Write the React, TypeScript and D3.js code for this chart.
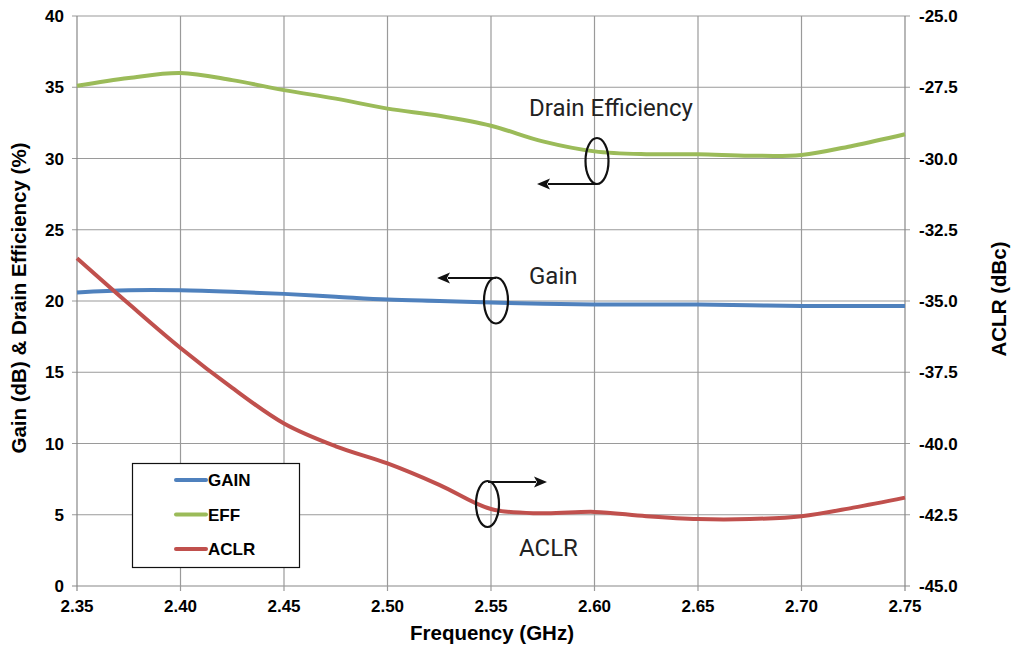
import React from "react";
import * as d3 from "d3";

const freqs = [2.35, 2.375, 2.4, 2.425, 2.45, 2.475, 2.5, 2.525, 2.55, 2.575, 2.6, 2.625, 2.65, 2.675, 2.7, 2.725, 2.75];
const gain = [20.6, 20.75, 20.75, 20.65, 20.5, 20.3, 20.1, 20.0, 19.9, 19.8, 19.75, 19.75, 19.75, 19.7, 19.65, 19.65, 19.65];
const eff = [35.1, 35.65, 36.0, 35.5, 34.8, 34.2, 33.5, 33.0, 32.3, 31.2, 30.5, 30.3, 30.3, 30.2, 30.25, 30.9, 31.7];
const aclr = [-33.5, -35.1, -36.65, -38.05, -39.3, -40.1, -40.7, -41.45, -42.3, -42.45, -42.4, -42.55, -42.65, -42.65, -42.55, -42.25, -41.9];

const xTicks = [2.35, 2.4, 2.45, 2.5, 2.55, 2.6, 2.65, 2.7, 2.75];
const yLeftTicks = [0, 5, 10, 15, 20, 25, 30, 35, 40];
const yRightTicks = [-45, -42.5, -40, -37.5, -35, -32.5, -30, -27.5, -25];

const legendItems = [
  { name: "GAIN", color: "#4F81BD" },
  { name: "EFF", color: "#9BBB59" },
  { name: "ACLR", color: "#C0504D" },
];

const W = 1011, H = 645;
const L = 77, R = 905, T = 16, B = 586;

export default function App() {
  const x = d3.scaleLinear().domain([2.35, 2.75]).range([L, R]);
  const yL = d3.scaleLinear().domain([0, 40]).range([B, T]);
  const yR = d3.scaleLinear().domain([-45, -25]).range([B, T]);
  const curve = d3.curveCatmullRom.alpha(0.5);
  const lineL = d3.line<number>().x((_, i) => x(freqs[i])).y((d) => yL(d)).curve(curve);
  const lineR = d3.line<number>().x((_, i) => x(freqs[i])).y((d) => yR(d)).curve(curve);
  const grid = "#9a9a9a";
  const axisFont = "'Liberation Sans', Arial, sans-serif";
  const annFont = "Roboto, sans-serif";

  const arrow = (x1: number, y1: number, x2: number) => {
    const dir = x2 < x1 ? -1 : 1;
    const hl = 13, hw = 5.5;
    return (
      <g>
        <line x1={x1} y1={y1} x2={x2 - dir * hl + dir * 2} y2={y1} stroke="#111" strokeWidth={2.2} />
        <path d={`M${x2},${y1} L${x2 - dir * hl},${y1 - hw} L${x2 - dir * (hl - 3)},${y1} L${x2 - dir * hl},${y1 + hw} Z`} fill="#111" />
      </g>
    );
  };

  return (
    <svg width={W} height={H} style={{ position: "absolute", left: 0, top: 0, background: "#fff" }}>
      {yLeftTicks.map((t) => (
        <line key={"h" + t} x1={L - 5} x2={R + 5} y1={yL(t)} y2={yL(t)} stroke={t === 0 ? "#888" : grid} strokeWidth={1.2} />
      ))}
      {xTicks.map((t) => (
        <line key={"v" + t} x1={x(t)} x2={x(t)} y1={T} y2={B + 5} stroke={t === 2.35 || t === 2.75 ? "#888" : grid} strokeWidth={1.2} />
      ))}
      {yLeftTicks.map((t) => (
        <text key={"yl" + t} x={L - 13} y={yL(t)} dy="0.36em" textAnchor="end" fontFamily={axisFont} fontWeight="bold" fontSize={17}>{t}</text>
      ))}
      {yRightTicks.map((t) => (
        <text key={"yr" + t} x={R + 14} y={yR(t)} dy="0.36em" textAnchor="start" fontFamily={axisFont} fontWeight="bold" fontSize={17}>{t.toFixed(1)}</text>
      ))}
      {xTicks.map((t) => (
        <text key={"xt" + t} x={x(t)} y={612} textAnchor="middle" fontFamily={axisFont} fontWeight="bold" fontSize={17}>{t.toFixed(2)}</text>
      ))}
      <text x={492} y={640} textAnchor="middle" fontFamily={axisFont} fontWeight="bold" fontSize={20.5}>Frequency (GHz)</text>
      <text transform={`translate(26,298) rotate(-90)`} textAnchor="middle" fontFamily={axisFont} fontWeight="bold" fontSize={20.5}>Gain (dB) &amp; Drain Efficiency (%)</text>
      <text transform={`translate(1006,299) rotate(-90)`} textAnchor="middle" fontFamily={axisFont} fontWeight="bold" fontSize={20.5}>ACLR (dBc)</text>

      <path d={lineL(eff) || ""} fill="none" stroke="#9BBB59" strokeWidth={4} />
      <path d={lineL(gain) || ""} fill="none" stroke="#4F81BD" strokeWidth={4} />
      <path d={lineR(aclr) || ""} fill="none" stroke="#C0504D" strokeWidth={4} />

      <ellipse cx={597} cy={161} rx={11.5} ry={23} fill="none" stroke="#111" strokeWidth={2.2} />
      {arrow(597, 184, 537)}
      <text x={529} y={116} fontFamily={annFont} fontSize={24} fill="#222">Drain Efficiency</text>

      <ellipse cx={496} cy={300.5} rx={12} ry={23} fill="none" stroke="#111" strokeWidth={2.2} />
      {arrow(496, 278, 437)}
      <text x={529} y={284} fontFamily={annFont} fontSize={24} fill="#222">Gain</text>

      <ellipse cx={487.5} cy={504} rx={11.5} ry={23} fill="none" stroke="#111" strokeWidth={2.2} />
      {arrow(488, 482, 547)}
      <text x={519} y={556} fontFamily={annFont} fontSize={24} fill="#222">ACLR</text>

      <rect x={132.5} y={463.5} width={167} height={104} fill="#fff" stroke="#111" strokeWidth={1.2} />
      {legendItems.map((it, i) => (
        <g key={it.name}>
          <line x1={176} x2={206} y1={480 + i * 34.5} y2={480 + i * 34.5} stroke={it.color} strokeWidth={4} strokeLinecap="round" />
          <text x={208} y={480 + i * 34.5} dy="0.36em" fontFamily={axisFont} fontWeight="bold" fontSize={17}>{it.name}</text>
        </g>
      ))}
    </svg>
  );
}
